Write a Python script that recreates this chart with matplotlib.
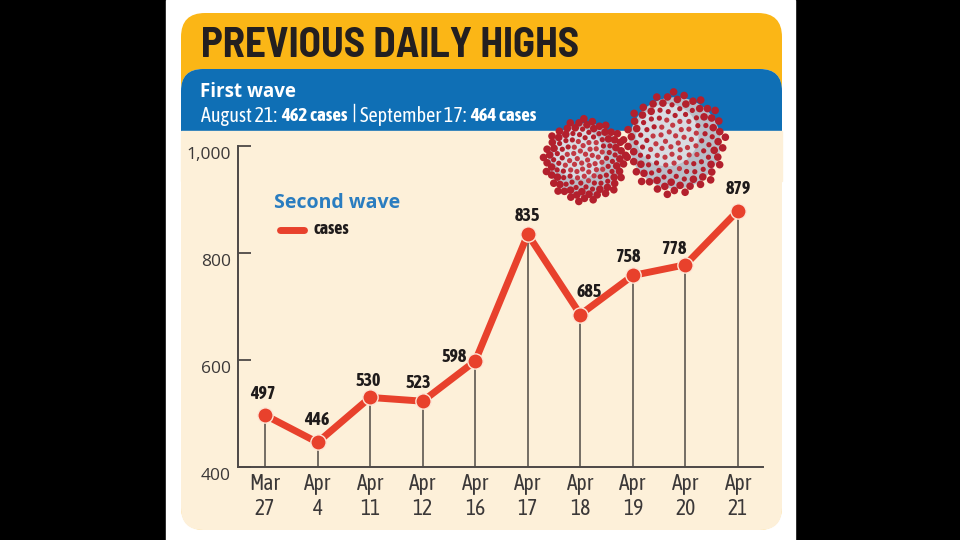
import numpy as np
import matplotlib.pyplot as plt
from matplotlib.patches import FancyBboxPatch, Rectangle, Circle

# data
dates = ['Mar\n27', 'Apr\n4', 'Apr\n11', 'Apr\n12', 'Apr\n16',
         'Apr\n17', 'Apr\n18', 'Apr\n19', 'Apr\n20', 'Apr\n21']
cases = [497, 446, 530, 523, 598, 835, 685, 758, 778, 879]
y_ticks = [400, 600, 800, 1000]
y_tick_labels = ['400', '600', '800', '1,000']
first_wave_dates = ['August 21:', 'September 17:']
first_wave_cases = ['462 cases', '464 cases']

# label nudges in pixels (dx, dy above the point)
label_off = [(-2, 21), (-1, 22), (-2, 16), (-4, 18), (-21, 4),
             (0, 18), (9, 23), (-5, 18), (-12, 16), (0, 22)]

cond = ['Asap Condensed', 'DejaVu Sans']
semi = ['Barlow Semi Condensed', 'DejaVu Sans']
wide = ['Open Sans', 'DejaVu Sans']

fig = plt.figure(figsize=(9.6, 5.4), dpi=100)
fig.patch.set_facecolor('black')
bg = fig.add_axes([0, 0, 1, 1])
bg.set_xlim(0, 960)
bg.set_ylim(540, 0)
bg.axis('off')

bg.add_patch(Rectangle((166, 0), 629, 540, color='white', zorder=0))


def rbox(x0, y0, x1, y1, c, r=22, z=1):
    bg.add_patch(FancyBboxPatch((x0, y0), x1 - x0, y1 - y0,
                                boxstyle=f'round,pad=0,rounding_size={r}',
                                fc=c, ec='none', zorder=z))


rbox(181, 13, 782, 530, '#fbb616', 24, 1)
rbox(181, 69, 782, 530, '#fdf0d9', 22, 2)
rbox(181, 69, 782, 170, '#0f6fb5', 22, 3)
bg.add_patch(Rectangle((181, 131), 601, 50, color='#fdf0d9', zorder=4))

bg.text(201, 46, 'PREVIOUS DAILY HIGHS', fontsize=29.5, weight='bold',
        family=semi, color='#231f20', va='center', zorder=5)
bg.text(200, 92, 'First wave', fontsize=13.5, weight='bold',
        family=wide, color='white', va='center', zorder=5)

r = fig.canvas.get_renderer()
x = 201
for i in range(2):
    t = bg.text(x, 116, first_wave_dates[i], fontsize=14.5, family=cond,
                color='white', va='center', zorder=5)
    x += t.get_window_extent(r).width + 4
    t = bg.text(x, 116, first_wave_cases[i], fontsize=13.5, family=cond, weight='bold',
                color='white', va='center', zorder=5)
    x += t.get_window_extent(r).width + 6
    if i == 0:
        bg.plot([x, x], [104, 121], color='white', lw=1, zorder=5)
        x += 6


# virus decorations
def virus(cx, cy, rad):
    bg.add_patch(Circle((cx, cy), rad * 0.88, fc='#b9bec8', ec='none', zorder=6))
    bg.add_patch(Circle((cx - rad * 0.15, cy - rad * 0.15), rad * 0.6, fc='#d9dce2',
                        ec='none', zorder=6))
    n = 130
    k = np.arange(n)
    rr = rad * np.sqrt((k + 0.5) / n)
    th = k * 2.39996
    for a, b in zip(rr, th):
        s = 3.8 if a > rad * 0.75 else 2.6
        c = '#b3202d' if a > rad * 0.5 else '#c23a44'
        bg.add_patch(Circle((cx + a * np.cos(b), cy + a * np.sin(b)), s,
                            fc=c, ec='none', zorder=7))


virus(585, 160, 42)
virus(675, 143, 52)

# chart
ax = fig.add_axes([238 / 960, (540 - 467) / 540, 525 / 960, 321 / 540])
ax.patch.set_alpha(0)
xs = np.arange(len(cases))
ax.set_xlim(-0.514, 9.476)
ax.set_ylim(400, 1000)
ax.vlines(xs, 400, cases, color='#4f4945', lw=1.1, zorder=1)
ax.plot(xs, cases, color='#e8412c', lw=5, zorder=3, solid_capstyle='round')
ax.plot(xs, cases, ls='none', marker='o', ms=11, mfc='#e8412c', mec='#fde6d6',
        mew=1, zorder=4)

for s in ['top', 'right']:
    ax.spines[s].set_visible(False)
for s in ['left', 'bottom']:
    ax.spines[s].set_color('#4d4846')
    ax.spines[s].set_linewidth(1.4)

ax.set_yticks(y_ticks)
ax.tick_params(axis='y', direction='in', length=9, width=1.3, colors='#4d4846',
               labelleft=False)
for v, lab in zip(y_ticks, y_tick_labels):
    ax.text(-0.014, v - 16, lab, transform=ax.get_yaxis_transform(), ha='right',
            va='center', fontsize=12.5, family=wide, color='#3b3838')

ax.set_xticks(xs, dates, fontsize=15.5, family=cond, color='#3b3838', linespacing=1.22)
ax.tick_params(axis='x', length=0, pad=4)

for i, v in enumerate(cases):
    dx, dy = label_off[i]
    ax.annotate(str(v), (i, v), xytext=(dx * 0.72, dy * 0.72), textcoords='offset points',
                ha='center', va='center', fontsize=13, weight='bold', family=cond,
                color='#1f1b1b', zorder=5)

# legend
bg.text(274, 203, 'Second wave', fontsize=14, weight='bold',
        family=wide, color='#2a7dc0', va='center', zorder=5)
bg.plot([280, 304], [230, 230], color='#e8412c', lw=5, solid_capstyle='round', zorder=5)
bg.text(314, 229, 'cases', fontsize=13, weight='bold', family=cond,
        color='#1f1b1b', va='center', zorder=5)

fig.savefig('out.png', dpi=100, facecolor=fig.get_facecolor())
